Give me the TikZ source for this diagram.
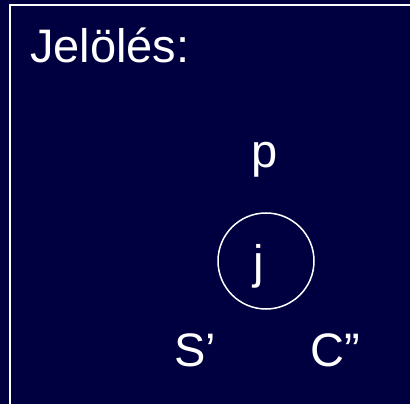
\documentclass[tikz,border=0pt]{standalone}
\usepackage{fontspec}
\setmainfont{Liberation Sans}
\usepackage{xcolor}
\definecolor{navy}{RGB}{0,0,64}
\usetikzlibrary{positioning}

\begin{document}
\begin{tikzpicture}[x=1pt, y=-1pt,
  lbl/.style={white, inner sep=0pt, font=\fontsize{47}{51}\selectfont},
  ring/.style={draw=white, line width=1.5pt, circle, minimum size=96pt, inner sep=0pt}]
\useasboundingbox (0,0) rectangle (410,404);
\fill[navy] (0,0) rectangle (410,404);
\clip (0,0) rectangle (410,404);
\draw[white, line width=2.4pt] (10,420) -- (10,5) -- (420,5);
% labels
\node[lbl, anchor=base west] (title) at (30,63) {Jelölés:};
\node[lbl, anchor=base] (p) at (265,167) {p};
\node[ring] (jring) at (266,261) {};
\node[lbl, anchor=base] (j) at (259,278) {j};
\node[lbl, anchor=base west] (s) at (174,366) {S’};
\node[lbl, anchor=base west] (c) at (310,366) {C”};
\end{tikzpicture}
\end{document}
